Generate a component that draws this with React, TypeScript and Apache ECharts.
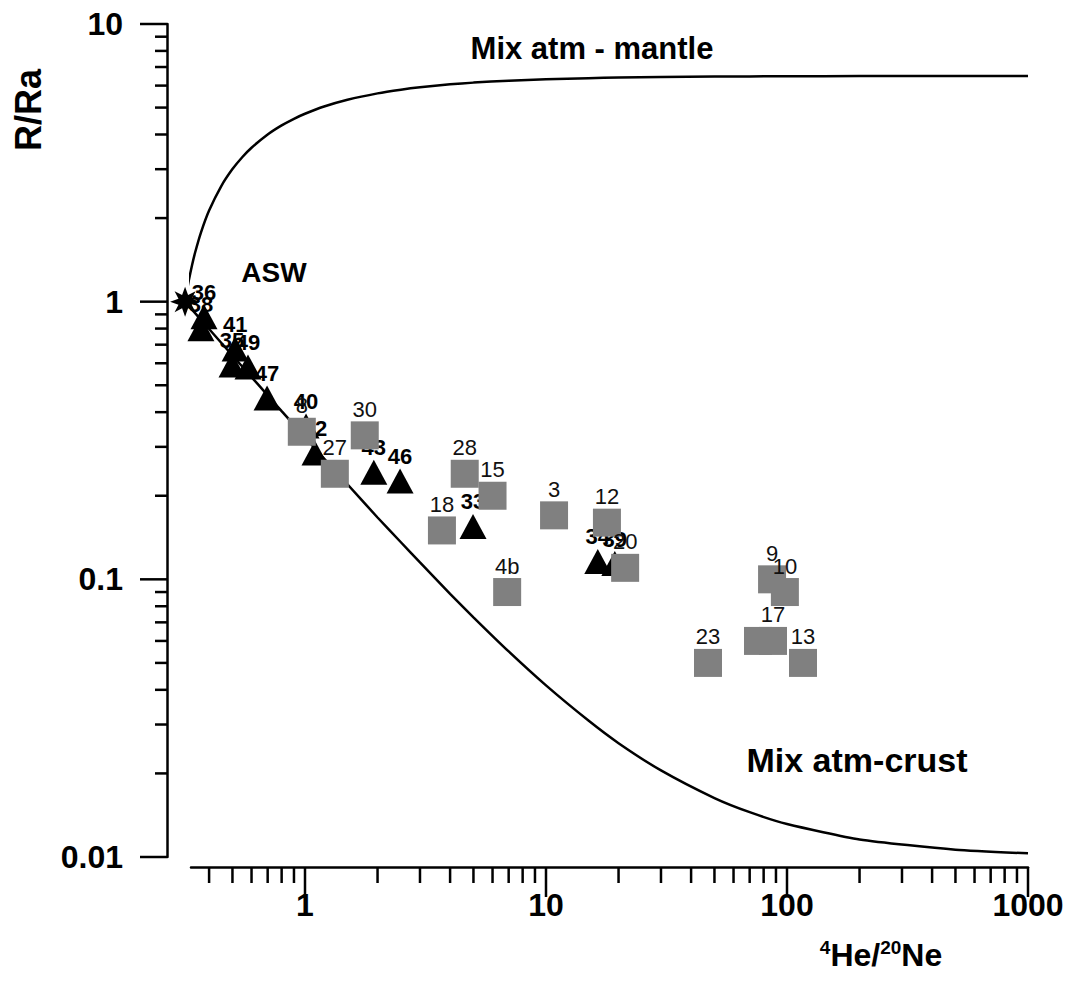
import React, { useEffect, useRef } from 'react';
import * as echarts from 'echarts';

// ---------- data ----------
const squareLabels = ['8', '30', '27', '28', '15', '18', '3', '12', '20', '4b', '9', '10', '', '17', '23', '13'];
const squareX = [0.97, 1.77, 1.33, 4.6, 6.0, 3.7, 10.8, 17.9, 21.3, 6.9, 86.7, 98, 75.8, 87.5, 47, 116.5];
const squareR = [0.34, 0.33, 0.24, 0.24, 0.2, 0.15, 0.17, 0.16, 0.11, 0.09, 0.1, 0.09, 0.06, 0.06, 0.05, 0.05];

const triangleLabels = ['36', '38', '41', '35', '49', '47', '40', '42', '43', '46', '33', '34', '39'];
const triangleX = [0.381, 0.37, 0.513, 0.498, 0.58, 0.696, 1.01, 1.1, 1.93, 2.48, 4.98, 16.4, 19.3];
const triangleR = [0.883, 0.799, 0.676, 0.592, 0.582, 0.45, 0.357, 0.285, 0.243, 0.226, 0.155, 0.116, 0.114];

const aswX = [0.318];
const aswR = [1];

const mantleX = [0.318, 0.32, 0.325, 0.33, 0.34, 0.35, 0.37, 0.4, 0.45, 0.5, 0.55, 0.6, 0.7, 0.8, 0.9, 1, 1.2, 1.5, 2, 2.5, 3, 4, 5, 7, 10, 15, 20, 30, 50, 70, 100, 200, 500, 1000];
const mantleR = [1, 1.034, 1.118, 1.2, 1.356, 1.503, 1.773, 2.128, 2.613, 3.002, 3.32, 3.585, 4.001, 4.314, 4.557, 4.751, 5.043, 5.334, 5.626, 5.8, 5.917, 6.063, 6.15, 6.25, 6.325, 6.383, 6.413, 6.442, 6.465, 6.475, 6.482, 6.491, 6.496, 6.498];

const crustX = [0.318, 0.33, 0.35, 0.4, 0.45, 0.5, 0.6, 0.7, 0.8, 1, 1.2, 1.5, 2, 2.5, 3, 4, 5, 7, 10, 15, 20, 30, 50, 70, 100, 200, 500, 1000];
const crustR = [1, 0.964, 0.9095, 0.797, 0.71, 0.64, 0.535, 0.46, 0.4035, 0.325, 0.272, 0.22, 0.167, 0.136, 0.115, 0.0887, 0.073, 0.055, 0.0415, 0.031, 0.0257, 0.0205, 0.0163, 0.0145, 0.01315, 0.01157, 0.01063, 0.01031];

const xMajorTicks = [1, 10, 100, 1000];
const xMinorTicks = [0.4, 0.5, 0.6, 0.7, 0.8, 0.9, 2, 3, 4, 5, 6, 7, 8, 9, 20, 30, 40, 50, 60, 70, 80, 90, 200, 300, 400, 500, 600, 700, 800, 900];
const yMajorTicks = [0.01, 0.1, 1, 10];
const yMinorTicks = [0.02, 0.03, 0.04, 0.05, 0.06, 0.07, 0.08, 0.09, 0.2, 0.3, 0.4, 0.5, 0.6, 0.7, 0.8, 0.9, 2, 3, 4, 5, 6, 7, 8, 9];

const X_MIN = 0.3365;
const X_MAX = 1000;
const Y_MIN = 0.01;
const Y_MAX = 10;

// ---------- styling ----------
const FONT = '"Liberation Sans", Arial, Helvetica, sans-serif';
const X_OFFSET = 10;
const Y_OFFSET = 24;
const STAR = 'path://M50,0 L60,28 L85,15 L72,40 L100,50 L72,60 L85,85 L60,72 L50,100 L40,72 L15,85 L28,60 L0,50 L28,40 L15,15 L40,28 Z';

const fmtPow = (v: number) => {
  const l = Math.log10(v);
  const e = Math.round(l);
  if (Math.abs(l - e) > 1e-6) return '';
  return e >= 0 ? String(Math.pow(10, e)) : Math.pow(10, e).toFixed(-e);
};

const tickSeries = (values: number[], axis: 'x' | 'y', len: number) => ({
  type: 'custom',
  coordinateSystem: 'cartesian2d',
  silent: true,
  clip: false,
  z: 5,
  data: values.map((v) => (axis === 'x' ? [v, Y_MIN] : [X_MIN, v])),
  renderItem: (_params: any, api: any) => {
    const p = api.coord([api.value(0), api.value(1)]);
    if (axis === 'x') {
      const y0 = p[1] + X_OFFSET;
      return {
        type: 'line',
        shape: { x1: p[0], y1: y0, x2: p[0], y2: y0 + len },
        style: { stroke: '#000', lineWidth: 2.5 },
      };
    }
    const x0 = p[0] - Y_OFFSET;
    return {
      type: 'line',
      shape: { x1: x0 - len, y1: p[1], x2: x0, y2: p[1] },
      style: { stroke: '#000', lineWidth: 2.5 },
    };
  },
});

export default function App() {
  const ref = useRef<HTMLDivElement>(null);

  useEffect(() => {
    if (!ref.current) return;
    const chart = echarts.init(ref.current, null, { renderer: 'svg' });

    const squares = squareX.map((x, i) => ({ value: [x, squareR[i]], name: squareLabels[i] }));
    const triangles = triangleX.map((x, i) => ({ value: [x, triangleR[i]], name: triangleLabels[i] }));

    chart.setOption({
      animation: false,
      backgroundColor: '#ffffff',
      grid: { left: 191, right: 43, top: 24, bottom: 126, containLabel: false, outerBoundsMode: 'none' },
      xAxis: {
        type: 'log',
        logBase: 10,
        min: X_MIN,
        max: X_MAX,
        offset: X_OFFSET,
        axisLine: { show: true, lineStyle: { color: '#000', width: 2.5 } },
        axisTick: { show: false },
        minorTick: { show: false },
        splitLine: { show: false },
        axisLabel: {
          margin: 22,
          fontSize: 32,
          fontWeight: 'bold',
          fontFamily: FONT,
          color: '#000',
          showMinLabel: true,
          showMaxLabel: true,
          formatter: fmtPow,
        },
      },
      yAxis: {
        type: 'log',
        logBase: 10,
        min: Y_MIN,
        max: Y_MAX,
        offset: Y_OFFSET,
        axisLine: { show: true, lineStyle: { color: '#000', width: 2.5 } },
        axisTick: { show: false },
        minorTick: { show: false },
        splitLine: { show: false },
        axisLabel: {
          margin: 44,
          fontSize: 32,
          fontWeight: 'bold',
          fontFamily: FONT,
          color: '#000',
          formatter: fmtPow,
        },
      },
      series: [
        tickSeries(xMajorTicks, 'x', 30),
        tickSeries(xMinorTicks, 'x', 16),
        tickSeries(yMajorTicks, 'y', 27),
        tickSeries(yMinorTicks, 'y', 12),
        {
          name: 'Mix atm - mantle',
          type: 'line',
          data: mantleX.map((x, i) => [x, mantleR[i]]),
          showSymbol: false,
          smooth: 0.2,
          clip: false,
          lineStyle: { color: '#000', width: 2.5 },
          silent: true,
          z: 2,
        },
        {
          name: 'Mix atm-crust',
          type: 'line',
          data: crustX.map((x, i) => [x, crustR[i]]),
          showSymbol: false,
          smooth: 0.2,
          clip: false,
          lineStyle: { color: '#000', width: 2.5 },
          silent: true,
          z: 2,
        },
        {
          name: 'ASW',
          type: 'scatter',
          data: aswX.map((x, i) => [x, aswR[i]]),
          symbol: STAR,
          symbolSize: 30,
          clip: false,
          itemStyle: { color: '#000', opacity: 1 },
          z: 3,
        },
        {
          name: 'triangles',
          type: 'scatter',
          data: triangles,
          symbol: 'triangle',
          symbolSize: [27, 25],
          clip: false,
          itemStyle: { color: '#000', opacity: 1 },
          label: {
            show: true,
            position: 'top',
            distance: 1,
            formatter: '{b}',
            fontSize: 22,
            fontWeight: 'bold',
            fontFamily: FONT,
            color: '#000',
          },
          z: 3,
        },
        {
          name: 'squares',
          type: 'scatter',
          data: squares,
          symbol: 'rect',
          symbolSize: 28,
          clip: false,
          itemStyle: { color: '#808080', opacity: 1 },
          label: {
            show: true,
            position: 'top',
            distance: 1,
            formatter: '{b}',
            fontSize: 22,
            fontFamily: FONT,
            color: '#111',
          },
          z: 4,
        },
      ],
      graphic: [
        {
          type: 'text',
          x: 592,
          y: 48,
          style: { text: 'Mix atm - mantle', fill: '#000', font: `bold 31px ${FONT}`, textAlign: 'center', textVerticalAlign: 'middle' },
        },
        {
          type: 'text',
          x: 857,
          y: 760,
          style: { text: 'Mix atm-crust', fill: '#000', font: `bold 34px ${FONT}`, textAlign: 'center', textVerticalAlign: 'middle' },
        },
        {
          type: 'text',
          x: 274,
          y: 272,
          style: { text: 'ASW', fill: '#000', font: `bold 28px ${FONT}`, textAlign: 'center', textVerticalAlign: 'middle' },
        },
        {
          type: 'text',
          x: 28,
          y: 110,
          rotation: Math.PI / 2,
          style: { text: 'R/Ra', fill: '#000', font: `bold 36px ${FONT}`, textAlign: 'center', textVerticalAlign: 'middle' },
        },
        {
          type: 'text',
          x: 881,
          y: 955,
          style: {
            text: '{sup|4}{main|He/}{sup|20}{main|Ne}',
            fill: '#000',
            textAlign: 'center',
            textVerticalAlign: 'middle',
            rich: {
              main: { fontSize: 32, fontWeight: 'bold', fontFamily: FONT, lineHeight: 34, fill: '#000' },
              sup: { fontSize: 19, fontWeight: 'bold', fontFamily: FONT, lineHeight: 20, verticalAlign: 'top', fill: '#000' },
            },
          },
        },
      ],
    });

    return () => chart.dispose();
  }, []);

  return (
    <div
      ref={ref}
      style={{ position: 'fixed', left: 0, top: 0, width: 1071, height: 983, background: '#fff' }}
    />
  );
}
